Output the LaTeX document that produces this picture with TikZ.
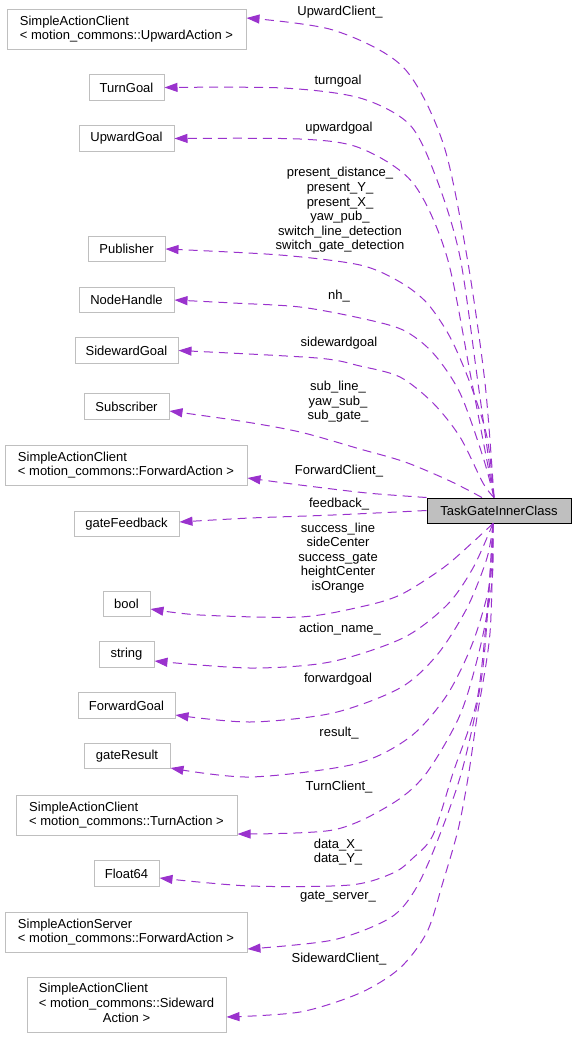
\documentclass[tikz,border=0pt]{standalone}
\usepackage{fontspec}
\setmainfont{Liberation Sans}
\usetikzlibrary{arrows.meta}
\definecolor{edgec}{HTML}{9A32CD}
\definecolor{boxc}{HTML}{BFBFBF}
\newcommand{\lfont}{\fontsize{13}{14.6}\selectfont}
\begin{document}
\begin{tikzpicture}[x=1pt,y=1pt,
  cls/.style={draw=boxc, line width=1pt, inner sep=0pt, font=\lfont, align=left, minimum height=25.5pt},
  clsm/.style={draw=boxc, line width=1pt, inner sep=0pt, font=\lfont},
  mainc/.style={draw=black, fill=boxc, line width=1pt, inner sep=0pt, font=\lfont, minimum width=144pt, minimum height=25pt},
  rel/.style={draw=edgec, line width=1pt, dash pattern=on 9pt off 6pt, -{Triangle[length=13pt,width=9pt]}},
  lbl/.style={font=\lfont, align=center, inner sep=0pt}]
\useasboundingbox (0,0) rectangle (576,-1037);

% class nodes
\node[cls, minimum width=239pt, minimum height=40pt] (sacU) at (126.5,-29) {SimpleActionClient\\\textless{} motion\_commons::UpwardAction \textgreater};
\node[cls, minimum width=75pt] (tg) at (126.5,-87.5) {TurnGoal};
\node[cls, minimum width=95pt] (ug) at (126.5,-138.5) {UpwardGoal};
\node[cls, minimum width=77pt] (pub) at (126.5,-249) {Publisher};
\node[cls, minimum width=95pt] (nh) at (126.5,-300) {NodeHandle};
\node[cls, minimum width=103pt] (sg) at (126.5,-350.5) {SidewardGoal};
\node[cls, minimum width=85pt] (sub) at (126.5,-406.5) {Subscriber};
\node[cls, minimum width=242pt, minimum height=40pt] (sacF) at (126,-465) {SimpleActionClient\\\textless{} motion\_commons::ForwardAction \textgreater};
\node[cls, minimum width=105pt] (gf) at (126.5,-524) {gateFeedback};
\node[cls, minimum width=47pt] (bool) at (126.5,-604) {bool};
\node[cls, minimum width=55pt] (str) at (126.5,-654.5) {string};
\node[cls, minimum width=97pt] (fg) at (126.5,-705.5) {ForwardGoal};
\node[cls, minimum width=86pt] (gr) at (127,-756) {gateResult};
\node[cls, minimum width=221pt, minimum height=40pt] (sacT) at (126.5,-815) {SimpleActionClient\\\textless{} motion\_commons::TurnAction \textgreater};
\node[cls, minimum width=65pt] (fl) at (126.5,-873.5) {Float64};
\node[cls, minimum width=242pt, minimum height=40pt] (sas) at (126,-932) {SimpleActionServer\\\textless{} motion\_commons::ForwardAction \textgreater};
\node[clsm, minimum width=199pt, minimum height=55pt] (sacS) at (126.5,-1004.5) {\begin{tabular}{@{}l@{}}SimpleActionClient\\\textless{} motion\_commons::Sideward\\\multicolumn{1}{@{}c@{}}{Action \textgreater}\end{tabular}};
\node[mainc] (main) at (499,-510.5) {TaskGateInnerClass};

\coordinate (mt) at ([xshift=-5pt]main.north);
\coordinate (mb) at ([xshift=-6pt]main.south);

% edges (top)
\draw[rel] plot[smooth] coordinates {(mt) (485,-383) (467,-257) (443,-143) (403,-67) (333,-30) ([yshift=11pt]sacU.east)};
\draw[rel] plot[smooth] coordinates {(mt) (478,-383) (460,-257) (437,-180) (410,-125) (360,-98) (283,-88) (tg.east)};
\draw[rel] plot[smooth] coordinates {(mt) (472,-383) (447,-257) (413,-183) (360,-148) (300,-139) (ug.east)};
\draw[rel] plot[smooth] coordinates {(mt) (487,-437) (470,-383) (450,-337) (427,-303) (400,-282) (360,-265) (280,-255) (pub.east)};
\draw[rel] plot[smooth] coordinates {(mt) (483,-457) (460,-393) (433,-353) (403,-330) (360,-318) (300,-307) (233,-303) (nh.east)};
\draw[rel] plot[smooth] coordinates {(mt) (483,-483) (460,-437) (433,-403) (400,-377) (360,-366) (317,-358) (sg.east)};
\draw[rel] plot[smooth] coordinates {([xshift=-17pt]main.north) (450,-481) (405,-462) (360,-449) (300,-432) (240,-421) ([yshift=-4.5pt]sub.east)};
\draw[rel] plot[smooth] coordinates {(main.north west) (367,-493) (300,-485) ([yshift=-13pt]sacF.east)};
\draw[rel] plot[smooth] coordinates {(main.west) (333,-515) (250,-518) ([yshift=2pt]gf.east)};
% edges (bottom)
\draw[rel] plot[smooth] coordinates {(mb) (473,-542) (443,-568) (400,-595) (360,-607) (300,-617) (200,-615) ([yshift=-5pt]bool.east)};
\draw[rel] plot[smooth] coordinates {(mb) (473,-568) (447,-605) (403,-638) (330,-662) (250,-668) ([yshift=-6.5pt]str.east)};
\draw[rel] plot[smooth] coordinates {(mb) (487,-558) (467,-608) (437,-655) (400,-688) (333,-713) (250,-722) ([yshift=-9.5pt]fg.east)};
\draw[rel] plot[smooth] coordinates {(mb) (490,-582) (473,-642) (447,-695) (410,-737) (355,-764) (250,-777) ([yshift=-12pt]gr.east)};
\draw[rel] plot[smooth] coordinates {(mb) (492,-582) (480,-648) (460,-715) (425,-775) (390,-805) (333,-830) ([yshift=-19pt]sacT.east)};
\draw[rel] plot[smooth] coordinates {(mb) (488,-600) (477,-700) (453,-773) (433,-835) (413,-858) (393,-873) (350,-885) (250,-886) ([yshift=-4.5pt]fl.east)};
\draw[rel] plot[smooth] coordinates {(mb) (483,-667) (463,-767) (437,-842) (415,-890) (390,-918) (333,-940) ([yshift=-17pt]sas.east)};
\draw[rel] plot[smooth] coordinates {(mb) (490,-633) (477,-717) (468,-778) (458,-830) (443,-882) (427,-932) (400,-968) (360,-993) (300,-1012) ([yshift=-12.5pt]sacS.east)};

% labels
\node[lbl] (l1) at (340,-12) {UpwardClient\_};
\node[lbl] (l2) at (338,-81) {turngoal};
\node[lbl] (l3) at (339,-128) {upwardgoal};
\node[lbl] (l4) at (340,-210) {present\_distance\_\\present\_Y\_\\present\_X\_\\yaw\_pub\_\\switch\_line\_detection\\switch\_gate\_detection};
\node[lbl] (l5) at (339,-296) {nh\_};
\node[lbl] (l6) at (339,-343) {sidewardgoal};
\node[lbl] (l7) at (338,-402) {sub\_line\_\\yaw\_sub\_\\sub\_gate\_};
\node[lbl] (l8) at (339,-471) {ForwardClient\_};
\node[lbl] (l9) at (339,-504) {feedback\_};
\node[lbl] (l10) at (338,-558) {success\_line\\sideCenter\\success\_gate\\heightCenter\\isOrange};
\node[lbl] (l11) at (340,-629) {action\_name\_};
\node[lbl] (l12) at (338,-679) {forwardgoal};
\node[lbl] (l13) at (339,-733) {result\_};
\node[lbl] (l14) at (339,-787) {TurnClient\_};
\node[lbl] (l15) at (338,-852) {data\_X\_\\data\_Y\_};
\node[lbl] (l16) at (338,-897) {gate\_server\_};
\node[lbl] (l17) at (339,-959) {SidewardClient\_};
\end{tikzpicture}
\end{document}
